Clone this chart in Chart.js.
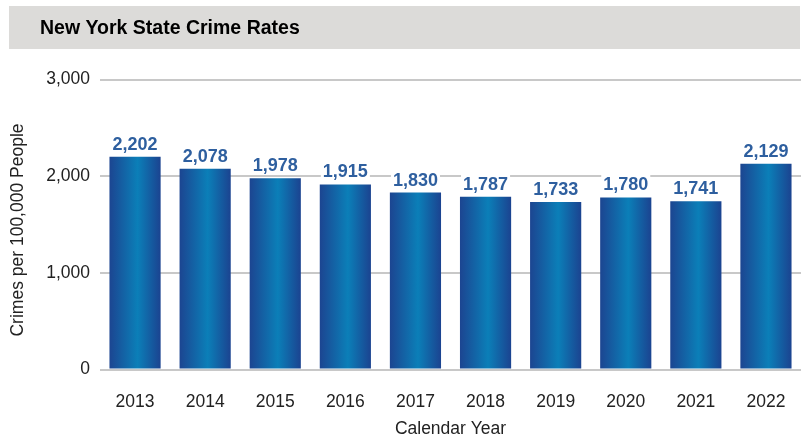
<!DOCTYPE html>
<html>
<head>
<meta charset="utf-8">
<script src="https://cdn.jsdelivr.net/npm/chart.js@4"></script>
<style>
  html, body { margin: 0; padding: 0; background: #fff; }
  #wrap { position: relative; width: 801px; height: 437px; }
</style>
</head>
<body>
<div id="wrap"><canvas id="chart" width="801" height="437"></canvas></div>
<script>
/* ── Data ─────────────────────────────────────────────────── */
const years = ['2013', '2014', '2015', '2016', '2017', '2018', '2019', '2020', '2021', '2022'];
const crimeRates = [2202, 2078, 1978, 1915, 1830, 1787, 1733, 1780, 1741, 2129];
const yTicks = [0, 1000, 2000, 3000];

const TITLE = 'New York State Crime Rates';
const Y_TITLE = 'Crimes per 100,000 People';
const FONT = '"Liberation Sans", Arial, Helvetica, sans-serif';

/* ── Palette ──────────────────────────────────────────────── */
const COLORS = {
    barEdge: '#1c4591',
    barMid: '#0b7fb8',
    label: '#2e5f9f',
    grid: '#c8c8c8',
    text: '#222',
    titleBand: '#dcdbd9',
};

const BAR_PCT = 0.73;

/* Horizontal gradient across each bar, computed from the x scale */
function barGradient(c) {
    const chart = c.chart;
    const x = chart.scales && chart.scales.x;
    if (!x || c.dataIndex == null) return COLORS.barEdge;
    const cx = x.getPixelForValue(c.dataIndex);
    const half = (x.width / years.length) * BAR_PCT / 2;
    if (!isFinite(cx) || !isFinite(half) || half <= 0) return COLORS.barEdge;
    const g = chart.ctx.createLinearGradient(cx - half, 0, cx + half, 0);
    g.addColorStop(0, COLORS.barEdge);
    g.addColorStop(0.55, COLORS.barMid);
    g.addColorStop(1, '#1b4390');
    return g;
}

/* Grey heading band above the plot, plus the rotated y-axis caption */
const frame = {
    id: 'frame',
    beforeDraw(chart) {
        const ctx = chart.ctx;
        ctx.save();
        ctx.fillStyle = COLORS.titleBand;
        ctx.fillRect(9, 6, 791, 43);
        ctx.fillStyle = '#000';
        ctx.font = `bold 19.5px ${FONT}`;
        ctx.textBaseline = 'alphabetic';
        ctx.textAlign = 'left';
        ctx.fillText(TITLE, 40, 33.5);

        ctx.translate(18.5, 230);
        ctx.rotate(-Math.PI / 2);
        ctx.fillStyle = COLORS.text;
        ctx.font = `17.5px ${FONT}`;
        ctx.textAlign = 'center';
        ctx.textBaseline = 'middle';
        ctx.fillText(Y_TITLE, 0, 0);
        ctx.restore();
    },
};

/* Value labels above bars, on a white backing so grid lines break */
const valueLabels = {
    id: 'valueLabels',
    afterDatasetsDraw(chart) {
        const ctx = chart.ctx;
        const meta = chart.getDatasetMeta(0);
        ctx.save();
        ctx.font = `bold 18px ${FONT}`;
        ctx.textAlign = 'center';
        ctx.textBaseline = 'alphabetic';
        meta.data.forEach((bar, i) => {
            const txt = crimeRates[i].toLocaleString('en-US');
            const w = ctx.measureText(txt).width;
            const y = bar.y - 7;
            ctx.fillStyle = '#fff';
            ctx.fillRect(bar.x - w / 2 - 2, y - 16, w + 4, 19);
            ctx.fillStyle = COLORS.label;
            ctx.fillText(txt, bar.x, y);
        });
        ctx.restore();
    },
};

new Chart(document.getElementById('chart'), {
    type: 'bar',
    data: {
        labels: years,
        datasets: [{
            data: crimeRates,
            backgroundColor: barGradient,
            borderWidth: 0,
            barPercentage: BAR_PCT,
            categoryPercentage: 1,
        }],
    },
    options: {
        responsive: false,
        animation: false,
        devicePixelRatio: 1,
        layout: { padding: { top: 79.5, left: 0, right: -1, bottom: 0 } },
        plugins: {
            legend: { display: false },
            tooltip: { enabled: false },
        },
        scales: {
            x: {
                grid: { display: false },
                border: { display: false },
                ticks: { color: COLORS.text, font: { size: 17.5, family: FONT }, padding: 14 },
                title: {
                    display: true,
                    text: 'Calendar Year',
                    color: COLORS.text,
                    font: { size: 17.5, family: FONT },
                    padding: { top: 0, bottom: -3 },
                },
                afterFit(scale) { scale.height = 67.5; },
            },
            y: {
                min: 0,
                max: 3000,
                afterBuildTicks(scale) { scale.ticks = yTicks.map(v => ({ value: v })); },
                grid: { color: COLORS.grid, lineWidth: 2, drawTicks: false },
                border: { display: false },
                ticks: {
                    color: COLORS.text,
                    font: { size: 17.5, family: FONT },
                    padding: 10,
                    callback: v => v.toLocaleString('en-US'),
                },
                afterFit(scale) { scale.width = 100; },
            },
        },
    },
    plugins: [frame, valueLabels],
});
</script>
</body>
</html>
